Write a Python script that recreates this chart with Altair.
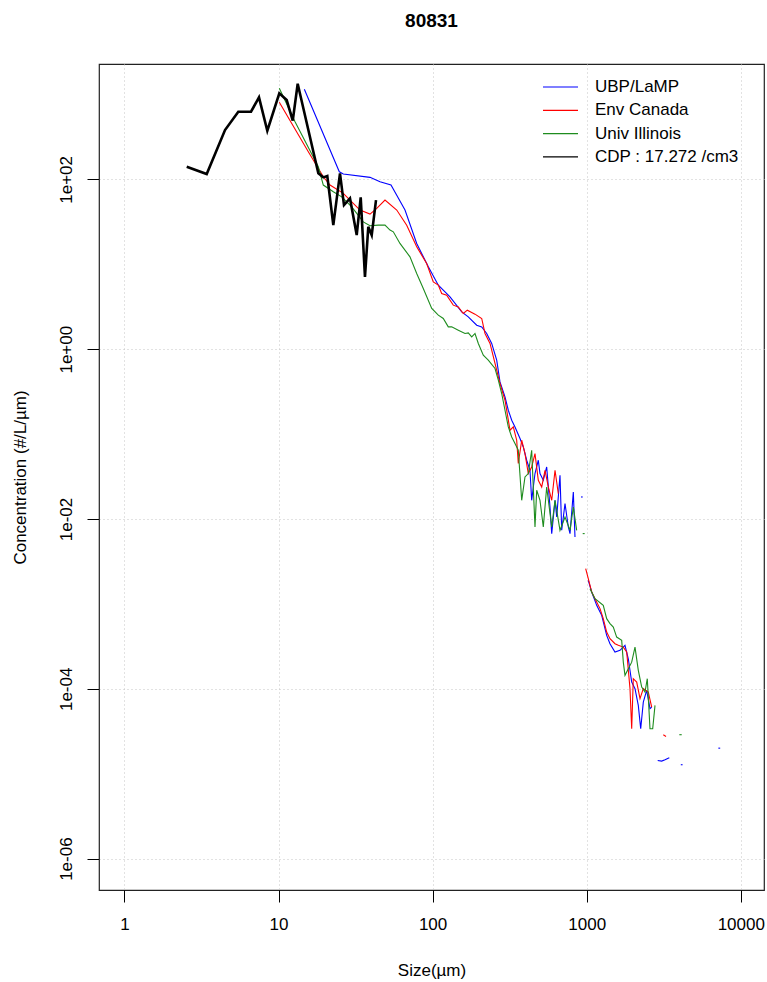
import altair as alt
import pandas as pd

# ---- particle size distributions, flight 80831 ----
# each probe is a list of contiguous segments: (sizes in µm, concentrations in #/L/µm)

ubp_segments = [
    ([14.71, 24.81, 26.34, 39.25, 45.57, 53.7, 66.2, 78.85, 93.8, 108.9, 129.7, 154.5,
      170.4, 193.3, 208.3, 224.4, 241.8, 260.6, 273.7, 295, 309.9, 326.1, 342.5, 369.2,
      387.8, 407.9, 428.5, 439.5, 461.8, 485.2, 497.6, 522.8, 550, 577.9, 592.9, 622.9,
      638.9, 671, 688.3, 723.2, 759.8, 779.4, 818.9, 839.5],
     [1150, 122.9, 115.5, 105.6, 93.7, 85.7, 43.5, 17.6, 9.33, 5.68, 4.13, 2.753,
      2.403, 1.919, 1.832, 1.531, 1.168, 0.742, 0.4118, 0.274, 0.191, 0.1457, 0.1215, 0.0886,
      0.0706, 0.0492, 0.0375, 0.0166, 0.0343, 0.0492, 0.0343, 0.0286, 0.041, 0.01385, 0.00673, 0.0166,
      0.01056, 0.0327, 0.00736, 0.0152, 0.00805, 0.00673, 0.0208, 0.00614]),
    ([918, 942], [0.01817, 0.01817]),
    ([1024, 1077.5, 1161, 1251, 1348, 1416, 1526, 1645, 1772, 1862, 1959, 2058, 2162,
      2241, 2330, 2450, 2575, 2641],
     [0.001896, 0.00138, 0.000962, 0.000733, 0.000426, 0.00034, 0.000271, 0.000284,
      0.000325, 0.000226, 0.00012, 0.0001003, 6.38e-5, 3.39e-5, 6.97e-5, 9.58e-5, 5.83e-5, 6.09e-5]),
    ([2889, 3068, 3223, 3436], [1.434e-5, 1.407e-5, 1.46e-5, 1.543e-5]),
    ([4080, 4190], [1.276e-5, 1.276e-5]),
    ([7150, 7350], [2.0e-5, 2.0e-5]),
]

envcan_segments = [
    ([10.12, 15.61, 19.53, 21.59, 26.34, 29.1, 33.8, 39.25, 43.4, 49.1, 58.5, 67.9, 78.85,
      91.5, 101, 108.9, 114.5, 123.4, 136.2, 146.8, 158.2, 168, 188.4, 208.3, 218.8, 235.8,
      254.1, 273.7, 295, 317.9, 334, 351.3, 359.8, 378.6, 397.7, 417.8, 439.5, 461.8, 485.2,
      510.5, 536.3, 563.4, 592.9, 622.9, 654.3],
     [808, 211.5, 107.3, 85.7, 68.4, 57.0, 43.5, 39.0, 45.5, 57.0, 43.5, 28.9, 16.06,
      10.23, 6.21, 5.68, 4.53, 4.33, 3.30, 3.15, 2.635, 2.882, 2.586, 2.30, 1.531, 1.168,
      0.679, 0.3944, 0.2506, 0.111, 0.1215, 0.0847, 0.045, 0.0847, 0.059, 0.0343, 0.041, 0.059, 0.0286,
      0.02384, 0.0375, 0.02384, 0.0166, 0.0375, 0.0199]),
    ([985, 1024, 1077.5, 1132, 1220, 1281, 1348, 1416, 1526, 1604, 1728, 1818, 1910, 1959,
      2006, 2111, 2218, 2330, 2510, 2641],
     [0.002603, 0.001985, 0.00138, 0.001153, 0.00088, 0.00067, 0.000466, 0.00039, 0.00034,
      0.000325, 0.00031, 0.000271, 0.0001003, 3.39e-5, 0.0001316, 0.00012, 7.65e-5, 0.0001003,
      9.15e-5, 6.09e-5]),
    ([3142, 3271], [2.88e-5, 2.75e-5]),
]

illinois_segments = [
    ([10.12, 12.8, 18.13, 19.53, 22.68, 25.71, 29.85, 35.5, 39.25, 44.4, 49.1, 52.9, 55.6,
      61.4, 71.3, 78.85, 87.0, 98.7, 108.9, 117.3, 126.4, 133, 146.8, 162.3, 170.4, 179.4,
      188.4, 198, 213.3, 229.8, 254.1, 267, 280.8, 295, 309.9, 326.1, 342.5, 359.8, 378.6,
      397.7, 417.8, 439.5, 461.8, 473.8, 497.6, 522.8, 550, 592.9, 622.9, 671, 723.2, 779.4,
      818.9, 861],
     [1182, 477, 140.8, 85.7, 71.4, 62.3, 47.5, 31.6, 28.4, 28.9, 28.9, 25.3, 24.1,
      17.6, 12.24, 7.80, 5.19, 3.017, 2.517, 2.30, 1.832, 1.832, 1.675, 1.531, 1.556, 1.396,
      1.531, 1.168, 0.85, 0.742, 0.5924, 0.4312, 0.3006, 0.191, 0.1215, 0.0926, 0.0774, 0.0645, 0.0166,
      0.0313, 0.0343, 0.0645, 0.00805, 0.0218, 0.0166, 0.00805, 0.02384, 0.00805, 0.0166, 0.00736,
      0.01056, 0.00736, 0.01385, 0.00736]),
    ([942, 970], [0.00673, 0.00673]),
    ([1050.5, 1132, 1281, 1348, 1416, 1488, 1565, 1687, 1728, 1772, 1862, 1959, 2058, 2162,
      2275, 2389, 2473, 2575, 2681, 2775],
     [0.001513, 0.001153, 0.000962, 0.00067, 0.000585, 0.000534, 0.000407, 0.000372,
      0.000206, 0.000144, 0.0001727, 0.000206, 0.00031, 0.000165, 0.0001048, 9.15e-5,
      0.0001316, 3.39e-5, 3.39e-5, 6.38e-5]),
    ([3990, 4136], [2.88e-5, 2.88e-5]),
]

cdp_segments = [
    ([2.537, 3.42, 4.496, 5.484, 6.63, 7.47, 8.46, 10.12, 11.3, 12.37, 13.32, 18.13, 19.53,
      20.73, 22.68, 25.06, 26.6, 29.1, 32.17, 34.15, 36.4, 38.25, 40.25, 42.93],
     [140.8, 115.5, 381, 626, 626, 925, 374, 1032, 860, 491, 1339, 117.7, 105.6,
      109.4, 28.9, 117.7, 49.8, 59.7, 22.06, 61.4, 7.11, 27.6, 22.06, 57.0]),
]

series_names = ["UBP/LaMP", "Env Canada", "Univ Illinois", "CDP : 17.272 /cm3"]
series_colors = ["#0000FF", "#FF0000", "#1E8C1E", "#000000"]
series_widths = [1.1, 1.1, 1.1, 2.6]
all_segments = [ubp_segments, envcan_segments, illinois_segments, cdp_segments]

x_ticks = [1, 10, 100, 1000, 10000]
y_ticks = [1e2, 1e0, 1e-2, 1e-4, 1e-6]
x_domain = [0.684, 14145]
y_domain = [4.27e-7, 2285]

FONT = "Liberation Sans"
W, H = 665, 826
GRID = dict(grid=True, gridColor="#c4c4c4", gridDash=[1, 3], gridWidth=1)


def to_frame(name, segments):
    rows = []
    for k, (sizes, concs) in enumerate(segments):
        for s, c in zip(sizes, concs):
            rows.append({"series": name, "seg": k, "size": s, "conc": c})
    return pd.DataFrame(rows)


x_scale = alt.Scale(type="log", domain=x_domain, nice=False)
y_scale = alt.Scale(type="log", domain=y_domain, nice=False)

x_axis = alt.Axis(
    values=x_ticks, format="d", title="Size(µm)", **GRID,
    domain=False, ticks=True, tickSize=12, tickColor="#000", tickWidth=1,
    labelFont=FONT, labelFontSize=17, labelColor="#000", labelPadding=14,
    labelFlush=False, labelOverlap=False,
    titleFont=FONT, titleFontSize=17, titleFontWeight="normal", titleColor="#000",
    titleX=W / 2, titleY=80, titleAlign="center", titleBaseline="middle",
)
y_axis = alt.Axis(
    values=y_ticks, title="Concentration (#/L/µm)", **GRID,
    labelExpr="'1e' + (datum.value >= 1 ? '+' : '-') + '0' + abs(round(log(datum.value) / LN10))",
    domain=False, ticks=True, tickSize=12, tickColor="#000", tickWidth=1,
    labelFont=FONT, labelFontSize=17, labelColor="#000", labelPadding=12,
    labelAngle=-90, labelAlign="center", labelBaseline="bottom",
    labelFlush=False, labelOverlap=False,
    titleFont=FONT, titleFontSize=17, titleFontWeight="normal", titleColor="#000",
    titleX=-79, titleY=H / 2, titleAngle=-90, titleAlign="center", titleBaseline="middle",
)

layers = []
for i, (name, segs) in enumerate(zip(series_names, all_segments)):
    df = to_frame(name, segs)
    layers.append(
        alt.Chart(df).mark_line(color=series_colors[i], strokeWidth=series_widths[i],
                                clip=True, strokeJoin="miter").encode(
            x=alt.X("size:Q", scale=x_scale, axis=x_axis),
            y=alt.Y("conc:Q", scale=y_scale, axis=y_axis),
            detail="seg:N",
            order="size:Q",
        )
    )

# legend: short line sample plus label for each probe, top right inside the frame
leg_x0, leg_x1, leg_tx, leg_y0, leg_dy = 444, 479, 496, 23, 23.3
for i, name in enumerate(series_names):
    yy = leg_y0 + i * leg_dy
    layers.append(
        alt.Chart(pd.DataFrame({"label": [name]})).mark_rule(
            color=series_colors[i], strokeWidth=1.2
        ).encode(x=alt.value(leg_x0), x2=alt.value(leg_x1), y=alt.value(yy))
    )
    layers.append(
        alt.Chart(pd.DataFrame({"label": [name]})).mark_text(
            align="left", baseline="middle", font=FONT, fontSize=17, color="#000"
        ).encode(x=alt.value(leg_tx), y=alt.value(yy), text="label:N")
    )

chart = alt.layer(*layers).properties(
    width=W, height=H,
    background="white",
    title=alt.TitleParams(
        "80831", font=FONT, fontSize=19, fontWeight="bold", color="#000",
        anchor="middle", frame="group", offset=33,
    ),
    autosize=alt.AutoSizeParams(type="none"),
    padding={"left": 99, "top": 64, "right": 3, "bottom": 92},
).configure_view(
    stroke="#222", strokeWidth=1.2
)

chart.save("out.html", embed_options={"renderer": "svg", "actions": False})
